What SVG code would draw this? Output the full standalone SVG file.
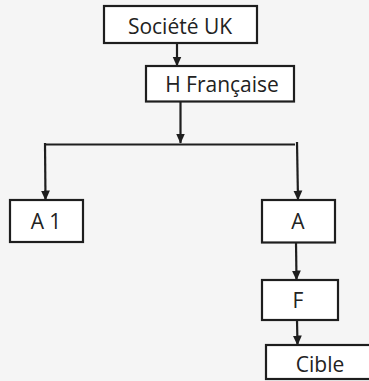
<svg xmlns="http://www.w3.org/2000/svg" width="369" height="381" viewBox="0 0 369 381">
<style>
.box{fill:#ffffff;stroke:#1e1e1e;stroke-width:2.2}
.lbl{font-family:"Open Sans","Liberation Sans",sans-serif;font-size:21px;fill:#222222;text-anchor:middle}
.con{stroke:#1e1e1e;stroke-width:2.2;fill:none}
</style>
<defs>
<marker id="arr" markerUnits="userSpaceOnUse" markerWidth="10" markerHeight="10" refX="9.5" refY="5" orient="auto">
<path d="M0,0.5 L10,5 L0,9.5 z" fill="#1e1e1e"/>
</marker>
</defs>
<rect width="369" height="381" fill="#f5f5f5"/>
<g id="connectors">
<line class="con" x1="177" y1="44" x2="177" y2="66" marker-end="url(#arr)"/>
<line class="con" x1="180.5" y1="102" x2="180.5" y2="143" marker-end="url(#arr)"/>
<line class="con" x1="44" y1="144.5" x2="295" y2="144.5"/>
<line class="con" x1="45" y1="143" x2="45.5" y2="200" marker-end="url(#arr)"/>
<line class="con" x1="297" y1="142" x2="298" y2="200" marker-end="url(#arr)"/>
<line class="con" x1="296" y1="242" x2="296.5" y2="280" marker-end="url(#arr)"/>
<line class="con" x1="297" y1="320" x2="297.5" y2="345" marker-end="url(#arr)"/>
</g>
<g id="societe-uk">
<rect class="box" x="104" y="6" width="153" height="37"/>
<text class="lbl" x="180" y="34">Société UK</text>
</g>
<g id="h-francaise">
<rect class="box" x="146" y="66" width="148" height="35.5"/>
<text class="lbl" x="222" y="92">H Française</text>
</g>
<g id="a1">
<rect class="box" x="10" y="200" width="73" height="42"/>
<text class="lbl" x="46" y="229">A 1</text>
</g>
<g id="a">
<rect class="box" x="262" y="200" width="73" height="42.5"/>
<text class="lbl" x="298" y="229">A</text>
</g>
<g id="f">
<rect class="box" x="262" y="280" width="76" height="40"/>
<text class="lbl" x="298" y="307.5">F</text>
</g>
<g id="cible">
<rect class="box" x="266" y="345" width="110" height="34"/>
<text class="lbl" x="320" y="371.5">Cible</text>
</g>
</svg>
